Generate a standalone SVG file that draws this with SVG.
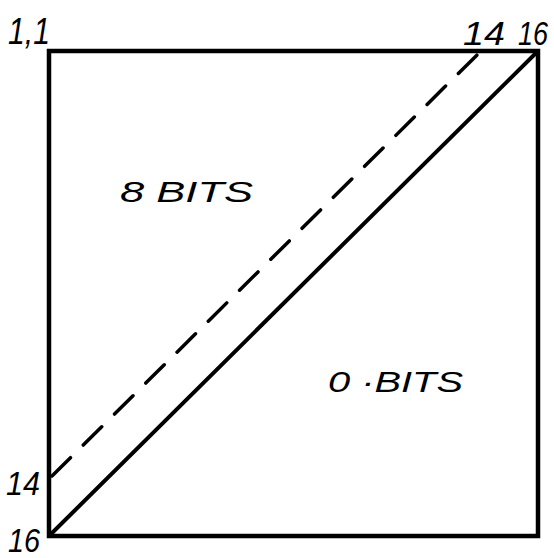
<svg xmlns="http://www.w3.org/2000/svg" width="554" height="558" viewBox="0 0 554 558">
<style>
.t{font-family:"Liberation Sans",Arial,sans-serif;font-style:italic;fill:#000}
.ln{stroke:#000;fill:none;stroke-linecap:round}
</style>
<rect width="554" height="558" fill="#fff"/>
<g id="square"><rect class="ln" x="49" y="51" width="489" height="485" stroke-width="4.5"/></g>
<g id="connectors">
<line class="ln" x1="50" y1="535" x2="537" y2="52" stroke-width="4"/>
<line class="ln" x1="52" y1="476" x2="480" y2="52" stroke-width="3.5" stroke-dasharray="26 18"/>
</g>
<g id="labels">
<text class="t" x="8" y="44" font-size="36" textLength="42" lengthAdjust="spacingAndGlyphs">1,1</text>
<text class="t" x="463" y="45" font-size="33" textLength="42" lengthAdjust="spacingAndGlyphs">14</text>
<text class="t" x="518" y="45" font-size="33" textLength="30" lengthAdjust="spacingAndGlyphs">16</text>
<text class="t" x="6" y="495" font-size="33" textLength="34" lengthAdjust="spacingAndGlyphs">14</text>
<text class="t" x="8" y="552" font-size="33" textLength="32" lengthAdjust="spacingAndGlyphs">16</text>
<text class="t" x="120" y="202" font-size="30" textLength="133" lengthAdjust="spacingAndGlyphs">8 BITS</text>
<text class="t" x="328" y="392" font-size="30" textLength="135" lengthAdjust="spacingAndGlyphs">0 ·BITS</text>
</g>
</svg>
